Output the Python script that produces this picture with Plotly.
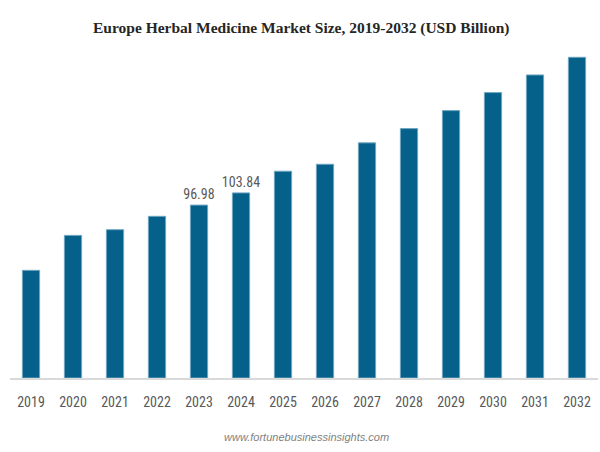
import plotly.graph_objects as go

years = ["2019", "2020", "2021", "2022", "2023", "2024", "2025", "2026",
         "2027", "2028", "2029", "2030", "2031", "2032"]
values = [60.4, 80.0, 83.2, 90.7, 96.98, 103.84, 116.0, 119.9,
          131.9, 139.9, 150.0, 160.1, 170.0, 179.9]
labels = ["", "", "", "", "96.98", "103.84", "", "", "", "", "", "", "", ""]

title = "Europe Herbal Medicine Market Size, 2019-2032 (USD Billion)"
source = "www.fortunebusinessinsights.com"

narrow = "Liberation Sans Narrow, Arial Narrow, Roboto Condensed, Liberation Sans, sans-serif"

fig = go.Figure(
    go.Bar(
        x=years,
        y=values,
        text=labels,
        textposition="outside",
        constraintext="none",
        textfont=dict(family=narrow, size=14, color="#595959"),
        cliponaxis=False,
        marker=dict(color="#05618a", line=dict(color="#6fa6c2", width=1)),
        width=0.41,
        hoverinfo="x+y",
    )
)

fig.update_layout(
    width=600,
    height=452,
    margin=dict(l=10, r=2, t=50, b=74),
    paper_bgcolor="white",
    plot_bgcolor="white",
    showlegend=False,
    title=dict(
        text="<b>" + title + "</b>",
        x=0.502,
        xanchor="center",
        y=0.94,
        yanchor="middle",
        font=dict(family="Liberation Serif, Times New Roman, serif", size=15.5, color="#262626"),
    ),
    xaxis=dict(
        type="category",
        showgrid=False,
        showline=True,
        linecolor="#d9d9d9",
        linewidth=2,
        ticks="",
        ticklabelstandoff=10,
        tickfont=dict(family=narrow, size=14, color="#595959"),
    ),
    yaxis=dict(
        range=[0, 184],
        visible=False,
        showgrid=False,
        zeroline=False,
    ),
    annotations=[
        dict(
            text="<i>" + source + "</i>",
            xref="paper",
            yref="paper",
            x=0.505,
            y=-0.18,
            xanchor="center",
            yanchor="middle",
            showarrow=False,
            font=dict(family="Liberation Sans, Arial, sans-serif", size=11, color="#7f7f7f"),
        )
    ],
)

fig.write_html(
    "out.html",
    config={"displayModeBar": False},
    post_script="document.body.style.margin='0';document.body.style.overflow='hidden';",
)
